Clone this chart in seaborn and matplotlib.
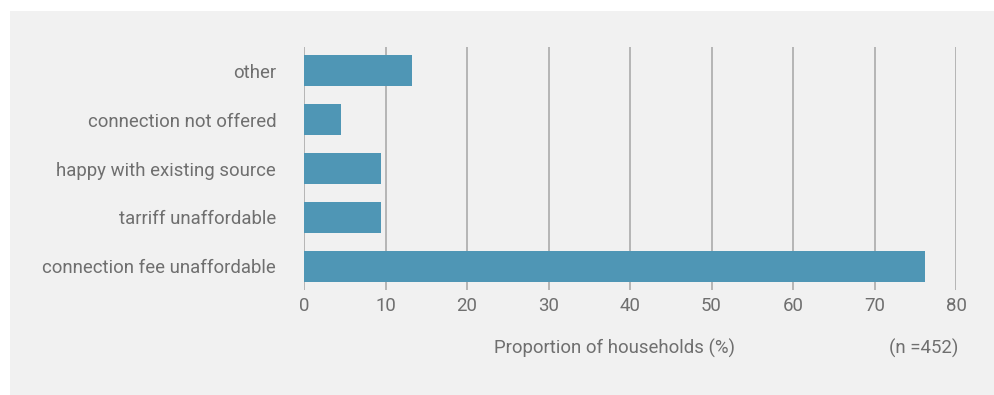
import matplotlib
matplotlib.use("Agg")
import matplotlib.pyplot as plt
import seaborn as sns
import pandas as pd

# reasons for not connecting
reasons = ["other", "connection not offered", "happy with existing source",
           "tarriff unaffordable", "connection fee unaffordable"]
shares = [13.3, 4.5, 9.4, 9.4, 76.2]
ticks = [0, 10, 20, 30, 40, 50, 60, 70, 80]

df = pd.DataFrame({"Reason": reasons, "Share": shares})

sns.set_theme(style="white")
plt.rcParams["font.family"] = ["Roboto", "DejaVu Sans"]

bg = "#f1f1f1"
txt = "#6f6f6f"
bar_col = "#4f96b5"

fig = plt.figure(figsize=(9.95, 3.95), dpi=100)
fig.patch.set_facecolor("white")
fig.patches.append(plt.Rectangle((10 / 995, 0), 1, 1 - 11 / 395,
                                 transform=fig.transFigure, facecolor=bg,
                                 edgecolor="none", zorder=-10))

ax = fig.add_axes([304 / 995, 1 - 290 / 395, (956 - 304) / 995, (290 - 47) / 395])
ax.set_facecolor(bg)

sns.barplot(data=df, y="Reason", x="Share", order=reasons, color=bar_col,
            saturation=1, width=0.63, linewidth=0, ax=ax, zorder=3)

ax.set_xlim(0, 80)
ax.set_ylim(4.48, -0.48)
ax.set_xticks(ticks)
ax.set_xticklabels([str(t) for t in ticks])
for t in ticks:
    ax.axvline(t, color="#b5b5b5", lw=1.4, zorder=1)

for s in ax.spines.values():
    s.set_visible(False)

ax.tick_params(axis="x", length=0, pad=5, labelsize=13.4, labelcolor=txt)
ax.tick_params(axis="y", length=0, pad=20, labelsize=13.4, labelcolor=txt)
for lab in ax.get_yticklabels():
    lab.set_va("center_baseline")
ax.set_xlabel("")
ax.set_ylabel("")

ax.text((614 - 304) / (956 - 304), -0.24, "Proportion of households (%)",
        transform=ax.transAxes, ha="center", va="center", fontsize=13.4, color=txt)
ax.text((924 - 304) / (956 - 304), -0.24, "(n =452)",
        transform=ax.transAxes, ha="center", va="center", fontsize=13.4, color=txt)

fig.savefig("out.png", dpi=100, facecolor=fig.get_facecolor())
